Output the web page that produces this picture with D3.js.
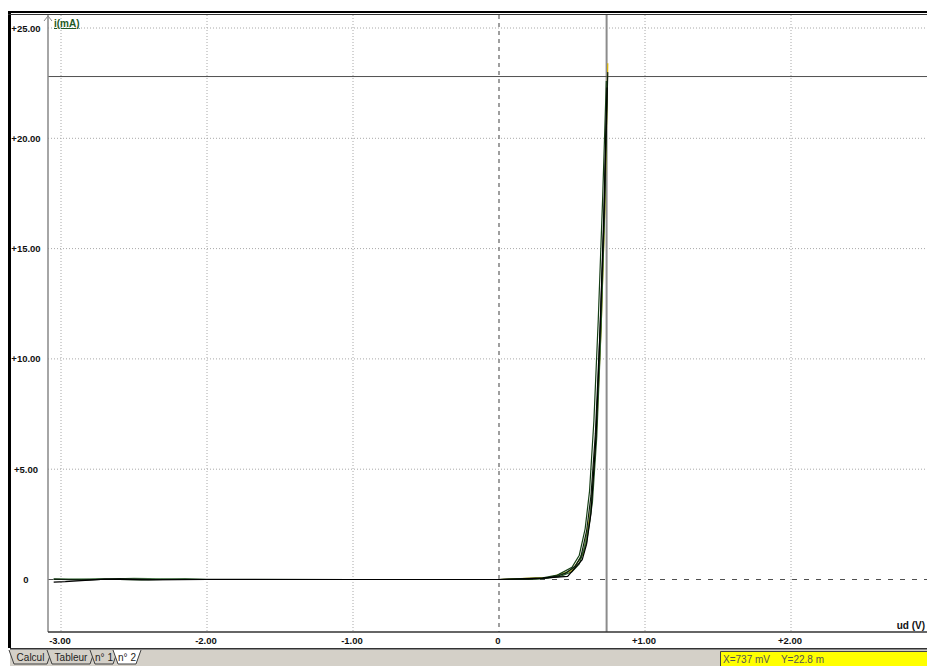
<!DOCTYPE html>
<html>
<head>
<meta charset="utf-8">
<script src="https://cdn.jsdelivr.net/npm/d3@7"></script>
<style>
  body { margin: 0; background: #fff; }
  svg { display: block; font-family: "Liberation Sans", Arial, sans-serif; }
</style>
</head>
<body>
<script>
// runs recorded on the diode, ud in V, i in mA
const udRunA = [-3.05, -2.85, -2.6, -2.35, -2.0, -1.0, 0.0, 0.2, 0.3, 0.4, 0.46, 0.52, 0.56, 0.6, 0.63, 0.66, 0.69, 0.72, 0.745];
const iRunA  = [0.02, -0.03, 0.04, 0.0, 0.01, 0.0, 0.0, 0.01, 0.05, 0.15, 0.3, 0.6, 1.0, 2.2, 3.8, 6.6, 11.0, 16.5, 23.0];
const udRunB = [-3.05, -2.75, -2.45, -2.15, -2.0, -1.5, -0.5, 0.1, 0.3, 0.42, 0.5, 0.55, 0.6, 0.64, 0.67, 0.7, 0.725, 0.742];
const iRunB  = [0.0, 0.03, -0.02, 0.03, 0.0, 0.0, 0.0, 0.0, 0.04, 0.14, 0.35, 0.7, 1.7, 3.5, 6.5, 11.5, 17.0, 22.5];
const udRunC = [-3.05, -2.97, -2.7, -2.4, -2.0, 0.0, 0.3, 0.47, 0.57, 0.6, 0.63, 0.665, 0.695, 0.72, 0.74];
const iRunC  = [-0.12, -0.1, 0.02, -0.02, 0.0, 0.0, 0.06, 0.14, 0.9, 1.6, 3.0, 6.5, 11.8, 17.0, 22.3];
const udRunD = [-3.05, -2.8, -2.5, -2.2, -2.0, -1.0, 0.0, 0.25, 0.35, 0.45, 0.52, 0.58, 0.62, 0.655, 0.69, 0.715, 0.738];
const iRunD  = [0.03, 0.0, 0.05, 0.02, 0.0, 0.0, 0.0, 0.03, 0.1, 0.28, 0.55, 1.3, 2.6, 5.4, 10.2, 15.3, 21.8];
const udRunE = [-3.05, -2.0, 0.0, 0.3, 0.4, 0.5, 0.55, 0.59, 0.62, 0.65, 0.68, 0.71, 0.735];
const iRunE  = [0.0, 0.0, 0.0, 0.07, 0.2, 0.55, 1.1, 2.3, 4.0, 7.2, 11.8, 17.3, 22.6];
const udRunF = [0.0, 0.35, 0.5, 0.58, 0.63, 0.67, 0.7, 0.725, 0.745];
const iRunF  = [0.0, 0.1, 0.4, 1.2, 3.2, 7.0, 11.5, 16.8, 23.4];

const runColors = ["#d9b200", "#4f7f4f", "#2b5e2b", "#163f16", "#0d1f0d", "#000000"];

const xTicks = [-3, -2, -1, 0, 1, 2];
const yTicks = [0, 5, 10, 15, 20, 25];
const cursorX = 0.737;
const cursorY = 22.8;
const tabNames = ["Calcul", "Tableur", "n° 1", "n° 2"];

const w = 927;
const h = 666;

const svg = d3.select("body")
              .append("svg")
              .attr("width", w)
              .attr("height", h);

const x = d3.scaleLinear().domain([-3, 2]).range([61, 791]);
const y = d3.scaleLinear().domain([0, 25]).range([579.5, 28]);

const plotL = 48, plotR = w, plotT = 15, plotB = 632;

const fmt = (d) => d === 0 ? "0" : (d > 0 ? "+" : "") + d.toFixed(2);

// grid
svg.append("g")
   .selectAll("line")
   .data(xTicks.filter((d) => d !== 0))
   .enter()
   .append("line")
   .attr("x1", (d) => x(d)).attr("x2", (d) => x(d))
   .attr("y1", plotT).attr("y2", plotB)
   .attr("stroke", "#a8a8a8")
   .attr("stroke-dasharray", "1,2");

svg.append("g")
   .selectAll("line")
   .data(yTicks.filter((d) => d !== 0))
   .enter()
   .append("line")
   .attr("x1", plotL).attr("x2", plotR)
   .attr("y1", (d) => y(d)).attr("y2", (d) => y(d))
   .attr("stroke", "#a8a8a8")
   .attr("stroke-dasharray", "1,2");

// zero lines
svg.append("line")
   .attr("x1", x(0)).attr("x2", x(0))
   .attr("y1", plotT).attr("y2", plotB)
   .attr("stroke", "#808080")
   .attr("stroke-width", 1.5)
   .attr("stroke-dasharray", "4,4");

svg.append("line")
   .attr("x1", plotL).attr("x2", plotR)
   .attr("y1", y(0)).attr("y2", y(0))
   .attr("stroke", "#505050")
   .attr("stroke-dasharray", "5,7");

// cursor
svg.append("line")
   .attr("x1", x(cursorX)).attr("x2", x(cursorX))
   .attr("y1", plotT).attr("y2", plotB)
   .attr("stroke", "#8c8c8c")
   .attr("stroke-width", 2);

svg.append("line")
   .attr("x1", plotL).attr("x2", plotR)
   .attr("y1", y(cursorY)).attr("y2", y(cursorY))
   .attr("stroke", "#505050");

// curves
const runs = [
  [udRunF, iRunF], [udRunD, iRunD], [udRunB, iRunB],
  [udRunE, iRunE], [udRunA, iRunA], [udRunC, iRunC]
];

const line = d3.line()
               .x((d) => x(d[0]))
               .y((d) => y(d[1]));

svg.append("g")
   .selectAll("path")
   .data(runs)
   .enter()
   .append("path")
   .attr("d", (r) => line(d3.zip(r[0], r[1])))
   .attr("fill", "none")
   .attr("stroke", (r, i) => runColors[i])
   .attr("stroke-width", 1.2);

// y axis with arrow
svg.append("line")
   .attr("x1", plotL).attr("x2", plotL)
   .attr("y1", plotT).attr("y2", plotB)
   .attr("stroke", "#888")
   .attr("stroke-width", 1.5);

svg.append("path")
   .attr("d", `M${plotL - 4},${plotT + 6} L${plotL},${plotT + 1} L${plotL + 4},${plotT + 6}`)
   .attr("fill", "none")
   .attr("stroke", "#888");

// x axis
svg.append("line")
   .attr("x1", plotL).attr("x2", plotR)
   .attr("y1", plotB).attr("y2", plotB)
   .attr("stroke", "#333")
   .attr("stroke-width", 1.5);

svg.append("g")
   .selectAll("text")
   .data(xTicks)
   .enter()
   .append("text")
   .attr("x", (d) => x(d) - 1)
   .attr("y", 644)
   .attr("text-anchor", "middle")
   .attr("font-size", 9.5)
   .attr("font-weight", "bold")
   .attr("fill", "#111")
   .text(fmt);

svg.append("g")
   .selectAll("text")
   .data(yTicks)
   .enter()
   .append("text")
   .attr("x", 26)
   .attr("y", (d) => y(d) + 3.5)
   .attr("text-anchor", "middle")
   .attr("font-size", 9.5)
   .attr("font-weight", "bold")
   .attr("fill", "#111")
   .text(fmt);

svg.append("text")
   .attr("x", 54)
   .attr("y", 27)
   .attr("font-size", 10)
   .attr("font-weight", "bold")
   .attr("fill", "#1d5a25")
   .attr("text-decoration", "underline")
   .text("i(mA)");

svg.append("text")
   .attr("x", 925)
   .attr("y", 629)
   .attr("text-anchor", "end")
   .attr("font-size", 10)
   .attr("font-weight", "bold")
   .attr("fill", "#111")
   .text("ud (V)");

// window frame
svg.append("rect").attr("x", 8).attr("y", 11).attr("width", 3).attr("height", 637).attr("fill", "#000");
svg.append("rect").attr("x", 8).attr("y", 11).attr("width", w - 8).attr("height", 2).attr("fill", "#000");
svg.append("rect").attr("x", 8).attr("y", 14).attr("width", w - 8).attr("height", 1).attr("fill", "#333");

// bottom bar
svg.append("rect").attr("x", 10).attr("y", 648).attr("width", w - 10).attr("height", 18).attr("fill", "#d4d0c8");
svg.append("line").attr("x1", 10).attr("x2", w).attr("y1", 648.5).attr("y2", 648.5).attr("stroke", "#333");
svg.append("line").attr("x1", 10).attr("x2", w).attr("y1", 649.5).attr("y2", 649.5).attr("stroke", "#888");

const tabEdges = [[9, 52], [47, 95], [90, 118], [113, 141]];

const tabs = svg.append("g")
   .selectAll("g")
   .data(tabNames)
   .enter()
   .append("g");

tabs.append("path")
    .attr("d", (d, i) => {
      const [a, b] = tabEdges[i];
      return `M${a},650 L${a + 5},664 L${b - 5},664 L${b},650`;
    })
    .attr("fill", (d, i) => i === 3 ? "#fff" : "#d4d0c8")
    .attr("stroke", "#404040");

tabs.append("text")
    .attr("x", (d, i) => (tabEdges[i][0] + tabEdges[i][1]) / 2)
    .attr("y", 661)
    .attr("text-anchor", "middle")
    .attr("font-size", 10)
    .attr("fill", "#222")
    .text((d) => d);

// status box
svg.append("rect").attr("x", 720).attr("y", 651).attr("width", w - 720).attr("height", 15).attr("fill", "#ffff00");
svg.append("path").attr("d", "M720.5,666 L720.5,651.5 L927,651.5").attr("fill", "none").attr("stroke", "#444");

svg.append("text")
   .attr("x", 723)
   .attr("y", 663)
   .attr("font-size", 10)
   .attr("fill", "#555")
   .style("white-space", "pre")
   .text(`X=${Math.round(cursorX * 1000)} mV    Y=${cursorY} m`);
</script>
</body>
</html>
